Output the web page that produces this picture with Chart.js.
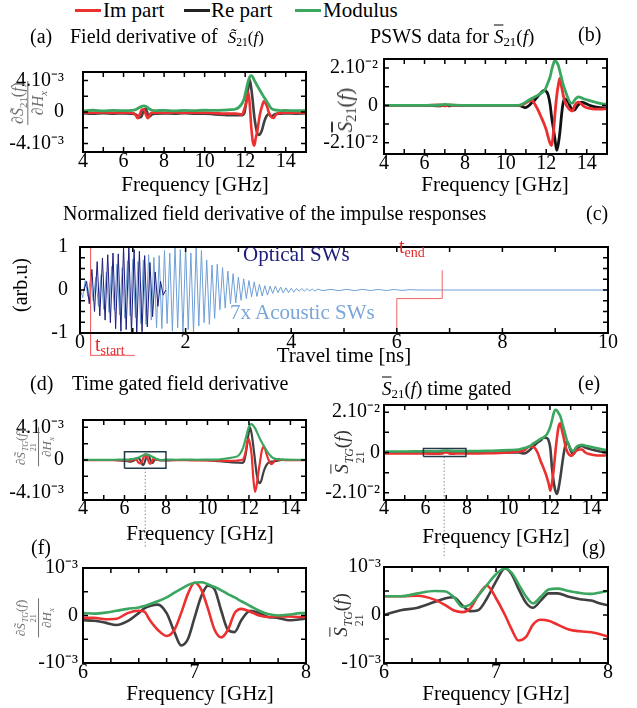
<!DOCTYPE html>
<html><head><meta charset="utf-8">
<script src="https://cdn.jsdelivr.net/npm/chart.js@4.4.1/dist/chart.umd.min.js"></script>
<style>
body{margin:0;background:#fff;width:637px;height:708px;position:relative;overflow:hidden;font-family:'Liberation Serif','Times New Roman',serif;color:#000}
canvas{position:absolute}
.t{position:absolute;white-space:nowrap;font-size:20px;line-height:20px;font-family:'Liberation Serif','Times New Roman',serif}
.l{transform:translate(0,-50%)}
.c{transform:translate(-50%,-50%)}
.r{transform:translate(-50%,-50%) rotate(-90deg)}
.bar{position:absolute;height:3px}
sub{font-size:0.68em;vertical-align:-0.3em;line-height:0}
.frac{display:inline-flex;flex-direction:column;align-items:center;vertical-align:middle}
.frac>span{display:block;padding:0 1px;line-height:1.2}
.frac>span:first-child{border-bottom:1px solid currentColor}
.ov{text-decoration:overline}
.st{display:inline-flex;flex-direction:column;font-size:0.62em;line-height:1;vertical-align:-0.4em;margin-left:1px}
</style></head><body>
<canvas id="ca"></canvas><canvas id="cb"></canvas><canvas id="cc"></canvas>
<canvas id="cd"></canvas><canvas id="ce"></canvas><canvas id="cf"></canvas><canvas id="cg"></canvas>

<!-- legend -->
<div class="bar" style="left:75px;top:9px;width:26px;background:#ec2f2f"></div>
<div class="t l" style="left:103px;top:10px;font-size:21px">Im part</div>
<div class="bar" style="left:184px;top:9px;width:26px;background:#222"></div>
<div class="t l" style="left:211px;top:10px;font-size:21px">Re part</div>
<div class="bar" style="left:295px;top:9px;width:26px;background:#3ba65f"></div>
<div class="t l" style="left:323px;top:10px;font-size:21px">Modulus</div>

<!-- titles -->
<div class="t l" style="left:30px;top:36px">(a)</div>
<div class="t l" style="left:70px;top:37px">Field derivative of&nbsp; <span style="font-size:17px"><i>S&#771;</i><sub>21</sub>(<i>f</i>)</span></div>
<div class="t l" style="left:370px;top:36px">PSWS data for <span style="font-size:19px"><i class="ov">S</i><sub>21</sub>(<i>f</i>)</span></div>
<div class="t l" style="left:578px;top:34px">(b)</div>
<div class="t l" style="left:63px;top:213px">Normalized field derivative of the impulse responses</div>
<div class="t l" style="left:586px;top:213px">(c)</div>
<div class="t l" style="left:30px;top:383px">(d)</div>
<div class="t l" style="left:72px;top:383px">Time gated field derivative</div>
<div class="t l" style="left:382px;top:388px"><span style="font-size:19px"><i class="ov">S</i><sub>21</sub>(<i>f</i>)</span> time gated</div>
<div class="t l" style="left:578px;top:383px">(e)</div>
<div class="t l" style="left:31px;top:547px">(f)</div>
<div class="t l" style="left:582px;top:547px">(g)</div>

<!-- x axis titles -->
<div class="t c" style="left:195px;top:184px;font-size:21px">Frequency [GHz]</div>
<div class="t c" style="left:495px;top:184px;font-size:21px">Frequency [GHz]</div>
<div class="t c" style="left:344px;top:355px;font-size:21px">Travel time [ns]</div>
<div class="t c" style="left:200px;top:533px;font-size:21px">Frequency [GHz]</div>
<div class="t c" style="left:496px;top:536px;font-size:21px">Frequency [GHz]</div>
<div class="t c" style="left:200px;top:693px;font-size:21px">Frequency [GHz]</div>
<div class="t c" style="left:496px;top:693px;font-size:21px">Frequency [GHz]</div>

<!-- y axis titles -->
<div class="t r" style="left:28px;top:103px;font-size:16px;color:#707070"><span class="frac"><span>&#8706;<i>S&#771;</i><sub>21</sub>(<i>f</i>)</span><span>&#8706;<i>H<sub>x</sub></i></span></span></div>
<div class="t r" style="left:345px;top:110px;font-size:21px;color:#333"><i class="ov">S</i><sub>21</sub>(<i>f</i>)</div>
<div class="t r" style="left:20px;top:285px;font-size:20px">(arb.u)</div>
<div class="t r" style="left:34px;top:447px;font-size:13px;color:#707070"><span class="frac"><span>&#8706;<i>S&#771;</i><span class="st"><i>TG</i><span>21</span></span>(<i>f</i>)</span><span>&#8706;<i>H<sub>x</sub></i></span></span></div>
<div class="t r" style="left:350px;top:452px;font-size:19px;color:#333"><i class="ov">S</i><span class="st"><i>TG</i><span>21</span></span>(<i>f</i>)</div>
<div class="t r" style="left:34px;top:618px;font-size:13px;color:#707070"><span class="frac"><span>&#8706;<i>S&#771;</i><span class="st"><i>TG</i><span>21</span></span>(<i>f</i>)</span><span>&#8706;<i>H<sub>x</sub></i></span></span></div>
<div class="t r" style="left:349px;top:615px;font-size:19px;color:#333"><i class="ov">S</i><span class="st"><i>TG</i><span>21</span></span>(<i>f</i>)</div>

<!-- panel c annotations -->
<div class="t l" style="left:243px;top:254px;font-size:21px;color:#1d1d7a">Optical SWs</div>
<div class="t l" style="left:230px;top:312px;font-size:21px;color:#7aa6d8">7x Acoustic SWs</div>
<div class="t l" style="left:95px;top:344px;font-size:20px;color:#e8282a">t<sub style="font-size:14px">start</sub></div>
<div class="t l" style="left:399px;top:246px;font-size:20px;color:#e8282a">t<sub style="font-size:14px">end</sub></div>

<script>
// ---------------- DATA ----------------
// (a) field derivative of S21, units of 1e-3
const aFreq = [4.0,4.5,5.0,5.5,6.0,6.4,6.6,6.7,6.8,6.9,7.0,7.1,7.2,7.3,7.4,7.6,8.0,8.5,9.0,9.5,10.0,10.5,11.0,11.3,11.5,11.7,11.85,11.95,12.05,12.15,12.22,12.3,12.38,12.45,12.52,12.6,12.68,12.76,12.84,12.92,13.0,13.08,13.16,13.24,13.32,13.4,13.5,13.6,13.8,14.0,14.5,15.0];
const aMod = [0.15,0.22,0.14,0.2,0.17,0.2,0.3,0.45,0.6,0.72,0.78,0.72,0.55,0.35,0.22,0.17,0.21,0.15,0.2,0.17,0.22,0.2,0.25,0.3,0.35,0.62,1.1,1.7,2.8,3.9,4.4,4.6,4.4,4.0,3.7,3.3,2.95,2.6,2.25,1.9,1.6,1.25,0.95,0.6,0.4,0.3,0.25,0.22,0.18,0.2,0.16,0.2];
const aRe = [-0.15,-0.2,-0.14,-0.2,-0.18,-0.2,-0.3,-0.5,-0.7,-0.5,0.3,0.4,-0.3,-0.55,-0.3,-0.2,-0.18,-0.2,-0.15,-0.2,-0.2,-0.3,-0.38,-0.42,-0.42,-0.42,-0.4,-0.2,1.2,3.0,4.1,3.0,1.2,-0.6,-1.8,-2.7,-2.9,-2.7,-2.2,-1.4,-0.8,-0.4,-0.25,-0.45,-0.5,-0.4,-0.25,-0.2,-0.2,-0.18,-0.2,-0.18];
const aIm = [-0.05,-0.1,-0.05,-0.1,-0.08,-0.1,-0.4,-0.8,-0.3,0.3,0.35,-0.3,-0.8,-0.3,-0.1,-0.08,-0.1,-0.05,-0.1,-0.08,-0.1,-0.15,-0.2,-0.2,-0.2,-0.25,-0.35,0.3,1.2,2.55,1.1,-1.9,-3.8,-4.25,-3.3,-2.4,-1.0,0.1,0.8,1.35,1.1,0.7,0.0,-0.45,-0.7,-0.75,-0.4,-0.2,-0.1,-0.08,-0.1,-0.08];
const aXTicks = [4,5,6,7,8,9,10,11,12,13,14,15];
const aXLabels = ['4','','6','','8','','10','','12','','14',''];
const aYTicks = [-4,-2,0,2,4];
const aYLabels = ['-4.10\u207B\u00B3','','0','','4.10\u207B\u00B3'];

// (b) PSWS data, units of 1e-2
const bFreq = [4,5,6,6.8,7.0,7.2,7.4,8,9,10,10.6,10.8,10.95,11.1,11.3,11.45,11.6,11.75,11.9,12.0,12.1,12.2,12.27,12.35,12.43,12.52,12.6,12.68,12.76,12.84,12.92,13.0,13.1,13.2,13.3,13.4,13.5,13.6,13.75,13.9,14.1,14.4,14.7,15.0];
const bMod = [0,0,0,0.02,0.05,0.03,0.02,0,0,0,0,0.05,0.15,0.25,0.38,0.46,0.55,0.66,0.78,0.97,1.25,1.55,1.9,2.2,2.4,2.3,2.13,1.8,1.45,1.1,0.85,0.6,0.33,0.12,0.12,0.28,0.4,0.46,0.4,0.33,0.27,0.18,0.1,0.05];
const bRe = [0,0,0,-0.02,0.03,-0.02,0,0,0,0,0,-0.05,-0.12,-0.05,0.15,0.3,0.5,0.68,0.8,0.75,0.55,0.0,-0.65,-1.2,-1.8,-2.4,-2.05,-1.4,-0.5,0.15,0.33,0.3,0.15,-0.1,-0.22,-0.25,-0.1,0.05,0.17,0.12,0.02,-0.08,-0.12,-0.14];
const bIm = [0,0,0,0.02,-0.03,0.02,0,0,0,0,0,0.03,0.1,0.2,0.27,0.05,-0.25,-0.62,-1.0,-1.3,-1.7,-2.05,-2.15,-1.55,-0.5,0.5,1.1,1.45,1.0,0.55,0.2,0.0,-0.15,-0.27,-0.3,-0.02,0.12,0.17,0.05,-0.08,-0.15,-0.2,-0.2,-0.18];
const bYTicks = [-2,-1,0,1,2];
const bYLabels = ['-2.10\u207B\u00B2','','0','','2.10\u207B\u00B2'];

// (c) impulse responses (arb.u)
const cOptT = [0.075,0.125,0.175,0.225,0.275,0.325,0.375,0.425,0.475,0.525,0.575,0.625,0.675,0.725,0.775,0.825,0.875,0.925,0.975,1.025,1.075,1.125,1.175,1.225,1.275,1.325,1.375,1.425,1.475,1.525,1.575,1.625];
const cOptV = [0,0.2,-0.32,0.48,-0.5,0.66,-0.6,0.74,-0.7,0.82,-0.76,0.86,-0.9,0.84,-0.96,1.0,-0.92,1.0,-1.0,0.94,-1.0,0.9,-0.97,0.8,-0.86,0.64,-0.62,0.42,-0.38,0.2,-0.12,0];
const cAcouT = [0,0.05,0.1,0.15,0.2,0.25,0.3,0.35,0.4,0.45,0.5,0.55,0.6,0.65,0.7,0.75,0.8,0.85,0.9,0.95,1,1.05,1.1,1.15,1.2,1.25,1.3,1.35,1.4,1.45,1.5,1.55,1.6,1.65,1.7,1.75,1.8,1.85,1.9,1.95,2,2.05,2.1,2.15,2.2,2.25,2.3,2.35,2.4,2.45,2.5,2.55,2.6,2.65,2.7,2.75,2.8,2.85,2.9,2.95,3,3.05,3.1,3.15,3.2,3.25,3.3,3.35,3.4,3.45,3.5,3.55,3.6,3.65,3.7,3.75,3.8,3.85,3.9,3.95,4,4.05,4.1,4.15,4.2,4.25,4.3,4.35,4.4,4.45,4.5,4.6,4.75,4.9,5.05,5.2,5.35,5.5,5.65,5.8,5.95,6.1,6.25,6.4,10];
const cAcouV = [0.05,-0.18,0.22,-0.15,0.28,-0.25,0.3,-0.38,0.36,-0.45,0.42,-0.52,0.55,-0.47,0.6,-0.58,0.52,-0.66,0.68,-0.6,0.72,-0.64,0.66,-0.78,0.7,-0.8,0.82,-0.7,0.76,-0.88,0.8,-0.9,0.92,-0.78,0.86,-0.96,1.0,-0.88,0.94,-1.0,1.0,-0.92,0.86,-1.0,1.0,-0.84,0.92,-0.76,0.7,-0.8,0.58,-0.66,0.6,-0.46,0.52,-0.42,0.44,-0.32,0.38,-0.3,0.3,-0.24,0.26,-0.2,0.22,-0.16,0.19,-0.15,0.13,-0.14,0.1,-0.12,0.09,-0.08,0.09,-0.06,0.07,-0.07,0.05,-0.06,0.04,-0.05,0.035,-0.03,0.035,-0.025,0.03,-0.02,0.02,-0.025,0.02,-0.015,0.015,-0.015,0.015,-0.015,0.015,-0.012,0.012,-0.012,0.012,-0.01,0.008,0,0];
const gateStartT = [0.2,0.2,1.04], gateStartV = [1,-1.52,-1.52];
const gateEndT = [6.0,6.0,6.86,6.86], gateEndV = [-1,-0.2,-0.2,0.46];
const cXTicks = [0,1,2,3,4,5,6,7,8,9,10];
const cXLabels = ['0','','2','','4','','6','','8','','10'];
const cYTicks = [-1,-0.75,-0.5,-0.25,0,0.25,0.5,0.75,1];
const cYLabels = ['-1','','','','0','','','','1'];

// (d) time gated field derivative, units of 1e-3
const dFreq = [4,4.5,5,5.5,6.0,6.15,6.3,6.45,6.55,6.67,6.75,6.82,6.88,6.94,7.0,7.06,7.12,7.18,7.24,7.3,7.36,7.42,7.5,7.6,7.75,8.0,8.5,9,9.5,10,10.4,10.8,11.2,11.5,11.65,11.75,11.84,11.92,11.98,12.05,12.13,12.21,12.29,12.37,12.45,12.53,12.61,12.69,12.77,12.85,12.93,13.01,13.09,13.18,13.26,13.34,13.45,13.6,13.8,14.2,14.75];
const dMod = [0.02,0.03,0.02,0.03,0.05,0.05,0.1,0.15,0.2,0.3,0.38,0.48,0.56,0.64,0.69,0.7,0.66,0.6,0.53,0.45,0.38,0.3,0.2,0.08,0.0,0.05,0.03,0.04,0.03,0.05,0.05,0.15,0.3,0.55,1.1,1.75,2.6,3.4,3.95,4.3,4.4,4.2,3.9,3.5,3.05,2.6,2.2,1.85,1.5,1.15,0.85,0.6,0.38,0.22,0.17,0.12,0.1,0.07,0.05,0.03,0.03];
const dRe = [0,0,0,0,-0.1,-0.13,-0.2,-0.08,0.15,0.23,0.05,-0.35,-0.63,-0.5,-0.05,0.4,0.63,0.55,0.1,-0.3,-0.35,-0.1,0.1,0.03,-0.05,-0.05,0,0,0,-0.02,-0.1,-0.2,-0.28,-0.33,-0.35,-0.25,0.68,2.0,3.2,4.0,3.2,1.7,0.0,-1.7,-2.6,-2.85,-2.4,-1.6,-1.0,-0.6,-0.34,-0.25,-0.2,-0.18,-0.15,-0.1,-0.05,0,0,0,0];
const dIm = [-0.02,-0.02,-0.03,-0.02,-0.05,-0.05,-0.07,0.08,0.08,-0.3,-0.43,-0.3,0.05,0.45,0.69,0.55,0.15,-0.3,-0.46,-0.3,0.05,0.14,0.08,0.0,-0.02,-0.03,-0.02,-0.03,-0.05,-0.05,-0.08,-0.1,-0.1,-0.05,0.0,0.2,1.0,2.2,2.6,2.0,0.6,-2.2,-3.9,-3.1,-1.6,-0.3,1.0,1.6,1.4,0.7,0.1,-0.35,-0.5,-0.3,0.0,0.08,0.02,0.0,-0.02,-0.03,-0.03];
const dBoxF = [6,8,8,6,6], dBoxV = [-1,-1,1,1,-1];
const dArrowF = [7,7], dArrowV = [-1,-10.7];
const dXTicks = [4,5,6,7,8,9,10,11,12,13,14];
const dXLabels = ['4','','6','','8','','10','','12','','14'];

// (e) S21 time gated, units of 1e-2
const eFreq = [4,5,6,6.5,6.8,7.0,7.2,7.5,8,9,10,10.5,10.75,11.0,11.2,11.4,11.55,11.7,11.85,11.95,12.02,12.1,12.18,12.26,12.34,12.42,12.5,12.58,12.66,12.74,12.82,12.9,12.98,13.06,13.14,13.22,13.3,13.42,13.55,13.7,13.9,14.1,14.4,14.75];
const eMod = [0.05,0.05,0.06,0.06,0.08,0.1,0.08,0.07,0.07,0.08,0.12,0.15,0.22,0.3,0.45,0.58,0.68,0.75,0.9,1.1,1.3,1.6,1.95,2.12,2.08,1.95,1.8,1.5,1.2,0.9,0.6,0.38,0.22,0.1,0.08,0.2,0.3,0.36,0.38,0.34,0.3,0.25,0.18,0.11];
const eRe = [0,0,0,0.01,-0.02,0.04,-0.02,0,0,0,0,0,-0.05,0.1,0.3,0.5,0.6,0.73,0.72,0.55,0.2,-0.8,-1.45,-1.9,-2.06,-1.75,-1.25,-0.65,-0.08,0.35,0.55,0.4,0.15,-0.02,-0.08,0.05,0.2,0.3,0.32,0.25,0.18,0.12,0.05,0.0];
const eIm = [-0.05,-0.05,-0.05,-0.06,-0.05,0.02,-0.06,-0.05,-0.05,-0.04,0.0,0.05,0.1,0.3,0.28,0.0,-0.42,-0.8,-1.22,-1.6,-1.9,-1.5,-0.85,0.0,0.75,1.3,1.45,1.1,0.75,0.35,0.08,-0.08,-0.15,-0.16,-0.05,0.05,0.1,0.15,0.15,0.0,-0.08,-0.12,-0.15,-0.15];
const eBoxF = [5.9,7.95,7.95,5.9,5.9], eBoxV = [-0.2,-0.2,0.2,0.2,-0.2];
const eArrowF = [6.9,6.9], eArrowV = [-0.2,-5.25];

// (f) zoom of (d), units of 1e-3
const fFreq = [6.0,6.1,6.2,6.3,6.4,6.5,6.55,6.6,6.67,6.75,6.82,6.88,6.94,7.0,7.06,7.12,7.18,7.24,7.3,7.36,7.42,7.5,7.58,7.66,7.75,7.85,7.95,8.0];
const fMod = [0.05,0.04,0.06,0.1,0.14,0.17,0.2,0.24,0.3,0.38,0.48,0.56,0.64,0.69,0.7,0.66,0.6,0.53,0.45,0.38,0.3,0.2,0.1,0.03,0.0,0.02,0.05,0.05];
const fRe = [-0.1,-0.11,-0.15,-0.2,-0.12,0.05,0.15,0.2,0.23,0.05,-0.35,-0.63,-0.5,-0.05,0.4,0.63,0.55,0.1,-0.3,-0.35,-0.1,0.1,0.05,-0.03,-0.05,-0.1,-0.08,-0.06];
const fIm = [-0.05,-0.05,-0.08,-0.07,0.05,0.1,0.08,-0.1,-0.3,-0.43,-0.3,0.05,0.45,0.69,0.55,0.15,-0.3,-0.46,-0.3,0.05,0.14,0.08,0.0,-0.03,-0.02,-0.02,-0.03,-0.03];

// (g) zoom of (e), units of 1e-3
const gFreq = [6.0,6.15,6.3,6.45,6.55,6.62,6.7,6.77,6.84,6.92,7.0,7.08,7.14,7.2,7.27,7.33,7.4,7.47,7.55,7.65,7.75,7.85,7.93,8.0];
const gMod = [0.39,0.39,0.45,0.5,0.49,0.38,0.17,0.22,0.4,0.63,0.85,0.97,0.88,0.65,0.38,0.24,0.38,0.53,0.55,0.5,0.46,0.44,0.47,0.5];
const gRe = [0.0,0.1,0.15,0.27,0.35,0.37,0.2,0.08,0.1,0.35,0.7,0.97,0.85,0.55,0.25,0.15,0.3,0.45,0.45,0.38,0.33,0.3,0.24,0.2];
const gIm = [0.39,0.39,0.4,0.32,0.2,0.1,0.06,0.14,0.4,0.61,0.35,0.0,-0.3,-0.53,-0.45,-0.2,-0.1,-0.12,-0.2,-0.3,-0.34,-0.36,-0.4,-0.45];
const zXTicks = [6,6.25,6.5,6.75,7,7.25,7.5,7.75,8];
const zXLabels = ['6','','','','7','','','','8'];
const zYTicks = [-1,-0.5,0,0.5,1];
const zYLabels = ['-10\u207B\u00B3','','0','','10\u207B\u00B3'];

// ---------------- DRAWING ----------------
const FONT = "'Liberation Serif', 'Times New Roman', serif";
Chart.defaults.font.family = FONT;
Chart.defaults.color = '#000';
const TICKFONT = {family: FONT, size: 20};
const RED = '#ec2f2f', GREY = '#404040', BLACK = '#111', GREEN = '#3ba65f';
const DARK = '#1d1d7d', LIGHT = '#6e9fd6', GATE = '#f06464';

const pts = (xs, ys) => xs.map((x, i) => ({x: x, y: ys[i]}));
const spec = (xs, ys, color, w) => ({data: pts(xs, ys), borderColor: color, borderWidth: w, pointRadius: 0, cubicInterpolationMode: 'monotone'});
const path = (xs, ys, color, w, extra) => Object.assign({data: pts(xs, ys), borderColor: color, borderWidth: w, pointRadius: 0, tension: 0, clip: false}, extra || {});

const framePlugin = {
  id: 'frame',
  afterDatasetsDraw(chart) {
    const {ctx, chartArea: a, scales: {x, y}} = chart;
    ctx.save();
    ctx.strokeStyle = '#000';
    ctx.lineWidth = 1.5;
    ctx.beginPath();
    x.ticks.forEach(t => { const p = x.getPixelForValue(t.value);
      ctx.moveTo(p, a.bottom); ctx.lineTo(p, a.bottom - 5);
      ctx.moveTo(p, a.top); ctx.lineTo(p, a.top + 5); });
    y.ticks.forEach(t => { const p = y.getPixelForValue(t.value);
      ctx.moveTo(a.left, p); ctx.lineTo(a.left + 5, p);
      ctx.moveTo(a.right, p); ctx.lineTo(a.right - 5, p); });
    ctx.stroke();
    ctx.lineWidth = 2;
    ctx.strokeRect(a.left, a.top, a.right - a.left, a.bottom - a.top);
    ctx.restore();
  }
};

function panel(id, box, o) {
  const [L, T, R, B] = box;
  const WY = 80, PT = 14, HX = 30;
  const PR = o.padRight != null ? o.padRight : 14, PB = o.padBottom || 0;
  const cv = document.getElementById(id);
  cv.width = R - L + WY + PR; cv.height = B - T + PT + HX + PB;
  cv.style.left = (L - WY) + 'px'; cv.style.top = (T - PT) + 'px';
  return new Chart(cv, {
    type: 'line',
    data: {datasets: o.datasets},
    options: {
      responsive: false, animation: false, devicePixelRatio: 1, events: [],
      layout: {padding: {left: 0, top: PT, right: PR, bottom: PB}},
      plugins: {legend: {display: false}, tooltip: {enabled: false}},
      scales: {
        x: {type: 'linear', min: o.xr[0], max: o.xr[1],
          afterBuildTicks: s => { s.ticks = o.xt.map(v => ({value: v})); },
          afterFit: s => { s.height = HX; },
          grid: {display: false, drawTicks: false}, border: {display: false},
          ticks: {autoSkip: false, maxRotation: 0, minRotation: 0, padding: o.xpad != null ? o.xpad : -2,
            font: TICKFONT, color: '#000', callback: (v, i) => o.xl[i]}},
        y: {type: 'linear', min: o.yr[0], max: o.yr[1],
          afterBuildTicks: s => { s.ticks = o.yt.map(v => ({value: v})); },
          afterFit: s => { s.width = WY; },
          grid: {display: false, drawTicks: false}, border: {display: false},
          ticks: {autoSkip: false, padding: o.ypad, font: TICKFONT, color: '#000', callback: (v, i) => o.yl[i]}}
      }
    },
    plugins: [framePlugin]
  });
}

panel('ca', [83, 55, 306, 153], {
  xr: [4, 15], yr: [-5.06, 5.06], xt: aXTicks, xl: aXLabels, yt: aYTicks, yl: aYLabels, ypad: 19,
  datasets: [spec(aFreq, aMod, GREEN, 2.8), spec(aFreq, aIm, RED, 2.6), spec(aFreq, aRe, GREY, 2.6)]
});
panel('cb', [384, 55, 607, 154], {
  xr: [4, 15], yr: [-2.6, 2.48], xt: aXTicks, xl: aXLabels, yt: bYTicks, yl: bYLabels, ypad: 6,
  datasets: [spec(bFreq, bMod, GREEN, 2.8), spec(bFreq, bIm, RED, 2.8), spec(bFreq, bRe, BLACK, 2.8)]
});
panel('cc', [80, 237, 608, 333], {
  xr: [0, 10], yr: [-1, 1], xt: cXTicks, xl: cXLabels, yt: cYTicks, yl: cYLabels, ypad: 12, padBottom: 4,
  datasets: [path(gateStartT, gateStartV, GATE, 1), path(gateEndT, gateEndV, GATE, 1),
    {data: pts(cOptT, cOptV), borderColor: DARK, borderWidth: 1, pointRadius: 0, tension: 0},
    {data: pts(cAcouT, cAcouV), borderColor: LIGHT, borderWidth: 1, pointRadius: 0, tension: 0}]
});
panel('cd', [83, 403, 306, 500], {
  xr: [4, 14.75], yr: [-4.9, 4.9], xt: dXTicks, xl: dXLabels, yt: aYTicks, yl: aYLabels, ypad: 19, xpad: -3, padBottom: 46,
  datasets: [path(dBoxF, dBoxV, '#203a48', 1.5),
    path(dArrowF, dArrowV, '#8a8a8a', 1, {borderDash: [1.5, 2], pointRadius: [0, 3.5], pointStyle: 'triangle', rotation: 180, pointBackgroundColor: '#8a8a8a', pointBorderWidth: 0}),
    spec(dFreq, dMod, GREEN, 2.2), spec(dFreq, dIm, RED, 2.2), spec(dFreq, dRe, GREY, 2.2)]
});
panel('ce', [384, 403, 607, 500], {
  xr: [4, 14.75], yr: [-2.36, 2.36], xt: dXTicks, xl: dXLabels, yt: bYTicks, yl: bYLabels, ypad: 4, xpad: -3, padBottom: 46,
  datasets: [path(eBoxF, eBoxV, '#203a48', 1.5),
    path(eArrowF, eArrowV, '#8a8a8a', 1, {borderDash: [1.5, 2], pointRadius: [0, 3.5], pointStyle: 'triangle', rotation: 180, pointBackgroundColor: '#8a8a8a', pointBorderWidth: 0}),
    spec(eFreq, eMod, GREEN, 2.6), spec(eFreq, eIm, RED, 2.6), spec(eFreq, eRe, GREY, 2.6)]
});
panel('cf', [83, 565, 306, 663], {
  xr: [6, 8], yr: [-1, 1], xt: zXTicks, xl: zXLabels, yt: zYTicks, yl: zYLabels, ypad: 5,
  datasets: [spec(fFreq, fMod, GREEN, 2.6), spec(fFreq, fIm, RED, 2.6), spec(fFreq, fRe, GREY, 2.6)]
});
panel('cg', [384, 566, 608, 663], {
  xr: [6, 8], yr: [-1, 1], xt: zXTicks, xl: zXLabels, yt: zYTicks, yl: zYLabels, ypad: 3,
  datasets: [spec(gFreq, gMod, GREEN, 2.6), spec(gFreq, gIm, RED, 2.6), spec(gFreq, gRe, GREY, 2.6)]
});
</script>
</body></html>
